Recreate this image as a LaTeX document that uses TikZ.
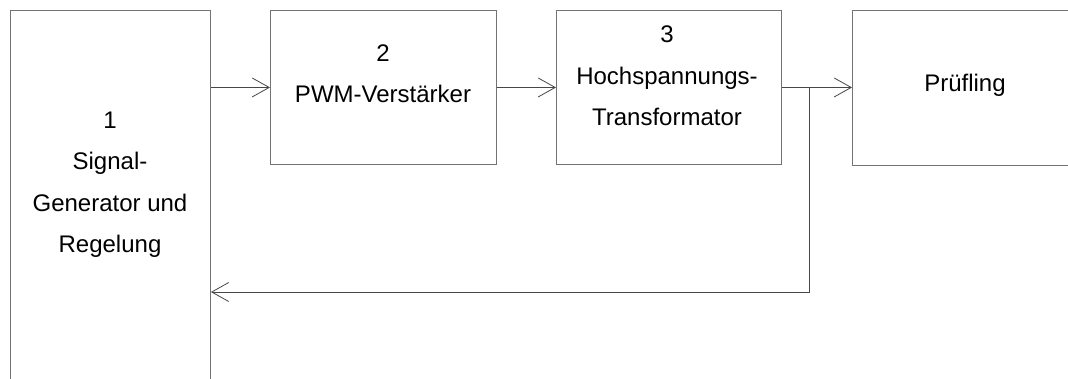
\documentclass[tikz,border=0pt]{standalone}
\usepackage{fontspec}
\setmainfont{Liberation Sans}
\usetikzlibrary{arrows.meta}
\begin{document}
\begin{tikzpicture}[x=1pt,y=-1pt,
  blk/.style={draw=black!55,line width=0.9pt,anchor=north west,inner sep=0pt},
  lbl/.style={anchor=base,inner sep=0pt,font=\fontsize{24}{28}\selectfont},
  conn/.style={draw=black!72,line width=0.8pt,-{Straight Barb[length=17pt,width=19pt]}},
  wire/.style={draw=black!72,line width=0.8pt}]
\useasboundingbox (0,0) rectangle (1068,378);
\clip (0,0) rectangle (1068,378);
% boxes
\node[blk,minimum width=200pt,minimum height=400pt] (b1) at (10,10) {};
\node[blk,minimum width=226pt,minimum height=154pt] (b2) at (270,10) {};
\node[blk,minimum width=225pt,minimum height=154pt] (b3) at (556,10) {};
\node[blk,minimum width=260pt,minimum height=155pt] (b4) at (852,10) {};
% labels
\node[lbl] (t1a) at (110,128) {1};
\node[lbl] (t1b) at (110,169) {Signal-};
\node[lbl] (t1c) at (110,211) {Generator und};
\node[lbl] (t1d) at (110,252) {Regelung};
\node[lbl] (t2a) at (383,61) {2};
\node[lbl] (t2b) at (383,102) {PWM-Verstärker};
\node[lbl] (t3a) at (667,42) {3};
\node[lbl] (t3b) at (667,84) {Hochspannungs-};
\node[lbl] (t3c) at (667,125) {Transformator};
\node[lbl] (t4) at (965,91) {Prüfling};
% connectors
\draw[conn] (b1.east |- b2.west) -- (b2.west);
\draw[conn] (b2.east) -- (b3.west);
\draw[conn] (b3.east) -- (b4.west |- b3.east);
\coordinate (br) at (809,87);
\coordinate (fb) at (809,292);
\draw[conn] (br) -- (fb) -- (fb -| b1.east);
\end{tikzpicture}
\end{document}
